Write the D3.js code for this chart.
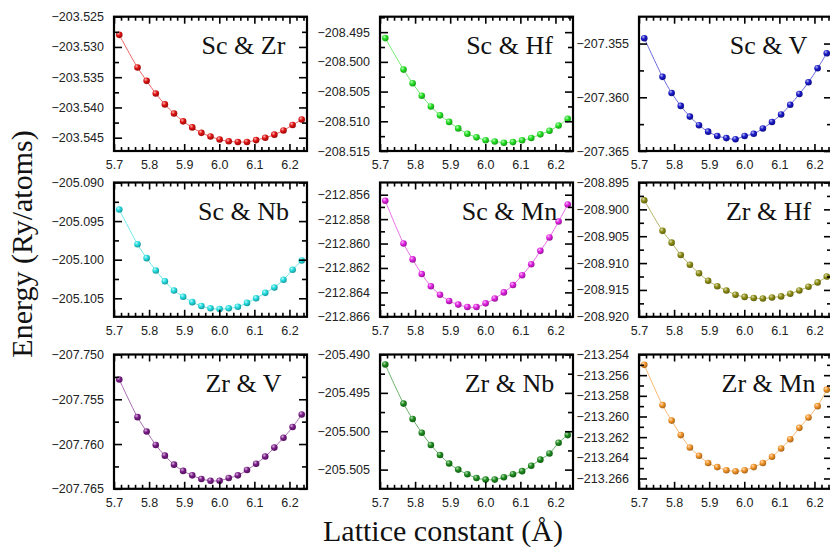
<!DOCTYPE html>
<html>
<head>
<meta charset="utf-8">
<script src="https://cdn.jsdelivr.net/npm/d3@7"></script>
<style>
  html, body { margin: 0; padding: 0; background: #fff; }
  svg { display: block; }
</style>
</head>
<body>
<svg id="chart" width="830" height="548"></svg>
<script>
// ---------------- DATA ----------------
const latticeConstants = [5.715, 5.767, 5.793, 5.819, 5.845, 5.871, 5.897, 5.923, 5.949, 5.975,
                          6.001, 6.027, 6.053, 6.079, 6.105, 6.131, 6.157, 6.183, 6.209, 6.235];

const panelTitles = ["Sc & Zr", "Sc & Hf", "Sc & V", "Sc & Nb", "Sc & Mn", "Zr & Hf", "Zr & V", "Zr & Nb", "Zr & Mn"];

const energyScZr = [-203.5280, -203.5334, -203.5356, -203.5377, -203.5395, -203.5410, -203.5423, -203.5433, -203.5442, -203.5448,
                    -203.5453, -203.5456, -203.5457, -203.5457, -203.5454, -203.5450, -203.5445, -203.5438, -203.5429, -203.5420];
const energyScHf = [-208.4960, -208.5013, -208.5036, -208.5057, -208.5075, -208.5090, -208.5101, -208.5112, -208.5121, -208.5127,
                    -208.5132, -208.5134, -208.5136, -208.5135, -208.5132, -208.5128, -208.5122, -208.5116, -208.5107, -208.5096];
const energyScV  = [-207.3545, -207.3581, -207.3596, -207.3608, -207.3618, -207.3626, -207.3632, -207.3636, -207.3638, -207.3639,
                    -207.3636, -207.3634, -207.3629, -207.3623, -207.3616, -207.3607, -207.3597, -207.3586, -207.3573, -207.3559];
const energyScNb = [-205.0935, -205.0980, -205.0998, -205.1014, -205.1028, -205.1040, -205.1048, -205.1055, -205.1060, -205.1063,
                    -205.1064, -205.1063, -205.1061, -205.1056, -205.1050, -205.1043, -205.1036, -205.1026, -205.1013, -205.1001];
const energyScMn = [-212.8565, -212.8600, -212.8613, -212.8625, -212.8635, -212.8642, -212.8647, -212.8650, -212.8652, -212.8652,
                    -212.8649, -212.8645, -212.8640, -212.8634, -212.8626, -212.8617, -212.8606, -212.8595, -212.8582, -212.8568];
const energyZrHf = [-208.8983, -208.9040, -208.9062, -208.9085, -208.9103, -208.9119, -208.9133, -208.9143, -208.9151, -208.9159,
                    -208.9163, -208.9165, -208.9166, -208.9164, -208.9162, -208.9157, -208.9151, -208.9144, -208.9136, -208.9125];
const energyZrV  = [-207.7528, -207.7570, -207.7586, -207.7601, -207.7613, -207.7623, -207.7630, -207.7635, -207.7639, -207.7641,
                    -207.7641, -207.7638, -207.7635, -207.7629, -207.7622, -207.7614, -207.7604, -207.7593, -207.7581, -207.7567];
const energyZrNb = [-205.4913, -205.4964, -205.4984, -205.5002, -205.5018, -205.5031, -205.5042, -205.5050, -205.5056, -205.5061,
                    -205.5063, -205.5063, -205.5060, -205.5056, -205.5052, -205.5045, -205.5037, -205.5029, -205.5015, -205.5005];
const energyZrMn = [-213.2550, -213.2589, -213.2604, -213.2618, -213.2630, -213.2638, -213.2645, -213.2649, -213.2652, -213.2653,
                    -213.2652, -213.2649, -213.2645, -213.2639, -213.2631, -213.2622, -213.2611, -213.2601, -213.2590, -213.2574];

const xTickLabels = [5.7, 5.8, 5.9, 6.0, 6.1, 6.2];

const yTicksScZr = [-203.525, -203.530, -203.535, -203.540, -203.545];
const yTicksScHf = [-208.495, -208.500, -208.505, -208.510, -208.515];
const yTicksScV  = [-207.355, -207.360, -207.365];
const yTicksScNb = [-205.090, -205.095, -205.100, -205.105];
const yTicksScMn = [-212.856, -212.858, -212.860, -212.862, -212.864, -212.866];
const yTicksZrHf = [-208.895, -208.900, -208.905, -208.910, -208.915, -208.920];
const yTicksZrV  = [-207.750, -207.755, -207.760, -207.765];
const yTicksZrNb = [-205.490, -205.495, -205.500, -205.505];
const yTicksZrMn = [-213.254, -213.256, -213.258, -213.260, -213.262, -213.264, -213.266];

const yDomainScZr = [-203.5472, -203.5250];
const yDomainScHf = [-208.5150, -208.4924];
const yDomainScV  = [-207.3650, -207.3525];
const yDomainScNb = [-205.1074, -205.0900];
const yDomainScMn = [-212.8660, -212.8550];
const yDomainZrHf = [-208.9200, -208.8950];
const yDomainZrV  = [-207.7650, -207.7500];
const yDomainZrNb = [-205.5075, -205.4900];
const yDomainZrMn = [-213.2670, -213.2540];

const xDomain = [5.7, 6.25];

// ---------------- STYLE / LAYOUT ----------------
const colors = ["#e01010", "#22e022", "#1818c8", "#22dde0", "#e020e0", "#8c8c12", "#7a1c88", "#1c8a1c", "#f29224"];
const series = [energyScZr, energyScHf, energyScV, energyScNb, energyScMn, energyZrHf, energyZrV, energyZrNb, energyZrMn];
const yTicks = [yTicksScZr, yTicksScHf, yTicksScV, yTicksScNb, yTicksScMn, yTicksZrHf, yTicksZrV, yTicksZrNb, yTicksZrMn];
const yDomains = [yDomainScZr, yDomainScHf, yDomainScV, yDomainScNb, yDomainScMn, yDomainZrHf, yDomainZrV, yDomainZrNb, yDomainZrMn];

const colLeft = [114, 380, 639];
const rowTop = [16.7, 182.5, 354.5];
const panelW = 193;
const panelH = 134.3;

const svg = d3.select("#chart");
svg.append("rect").attr("width", 830).attr("height", 548).attr("fill", "#fff");

const defs = svg.append("defs");
colors.forEach((c, i) => {
  const g = defs.append("radialGradient").attr("id", "ball" + i)
    .attr("cx", "0.38").attr("cy", "0.35").attr("r", "0.7").attr("fx", "0.35").attr("fy", "0.3");
  g.append("stop").attr("offset", "0%").attr("stop-color", d3.interpolateRgb(c, "#ffffff")(0.7));
  g.append("stop").attr("offset", "45%").attr("stop-color", c);
  g.append("stop").attr("offset", "100%").attr("stop-color", d3.color(c).darker(1.2));
});

const fmt = d3.format(".3f");

series.forEach((vals, i) => {
  const col = i % 3, row = Math.floor(i / 3);
  const x0 = colLeft[col], y0 = rowTop[row];
  const g = svg.append("g").attr("transform", `translate(${x0},${y0})`);

  const x = d3.scaleLinear().domain(xDomain).range([0, panelW]);
  const y = d3.scaleLinear().domain(yDomains[i]).range([panelH, 0]);

  const majors = yTicks[i];
  const step = Math.abs(majors[1] - majors[0]);
  const dom = yDomains[i];
  const minors = [];
  for (let k = -1; k < majors.length; k++) {
    const v = (k < 0 ? majors[0] + step / 2 : majors[k] - step / 2);
    if (v > dom[0] + 1e-9 && v < dom[1] - 1e-9) minors.push(v);
  }
  const xMinors = d3.range(0, 28).map(k => 5.7 + k * 0.02).filter(v => v < xDomain[1] && Math.abs(Math.round(v * 10) - v * 10) > 0.01);

  // Lines + markers
  const pts = latticeConstants.map((lc, k) => [lc, vals[k]]);
  const lineColor = d3.interpolateRgb(colors[i], "#ffffff")(0.35);
  g.append("path")
    .datum(pts)
    .attr("fill", "none")
    .attr("stroke", lineColor)
    .attr("stroke-width", 1)
    .attr("d", d3.line().x(d => x(d[0])).y(d => y(d[1])).curve(d3.curveCatmullRom));

  g.selectAll("circle.pt").data(pts).enter().append("circle")
    .attr("class", "pt")
    .attr("cx", d => x(d[0])).attr("cy", d => y(d[1]))
    .attr("r", 3.3)
    .attr("fill", `url(#ball${i})`);

  // Axes (ticks inward)
  const bottom = d3.axisBottom(x).tickValues(xTickLabels).tickSize(-7).tickPadding(9).tickFormat(d3.format(".1f"));
  const bottomMinor = d3.axisBottom(x).tickValues(xMinors).tickSize(-4).tickFormat("");
  const top = d3.axisTop(x).tickValues(xTickLabels).tickSize(-7).tickFormat("");
  const topMinor = d3.axisTop(x).tickValues(xMinors).tickSize(-4).tickFormat("");
  const left = d3.axisLeft(y).tickValues(majors).tickSize(-8).tickPadding(10).tickFormat(fmt);
  const leftMinor = d3.axisLeft(y).tickValues(minors).tickSize(-5).tickFormat("");
  const right = d3.axisRight(y).tickValues(majors).tickSize(-8).tickFormat("");
  const rightMinor = d3.axisRight(y).tickValues(minors).tickSize(-5).tickFormat("");

  const ax = [
    [bottom, `translate(0,${panelH})`], [bottomMinor, `translate(0,${panelH})`],
    [top, "translate(0,0)"], [topMinor, "translate(0,0)"],
    [left, "translate(0,0)"], [leftMinor, "translate(0,0)"],
    [right, `translate(${panelW},0)`], [rightMinor, `translate(${panelW},0)`]
  ];
  ax.forEach(([a, t]) => {
    const ga = g.append("g").attr("transform", t).call(a);
    ga.select(".domain").remove();
    ga.selectAll("line").attr("stroke", "#000").attr("stroke-width", 1.6);
    ga.selectAll("text").attr("font-family", "Liberation Sans, Arial, sans-serif").attr("font-size", 12.5).attr("fill", "#222");
  });

  // Frame
  g.append("rect").attr("x", 0).attr("y", 0).attr("width", panelW).attr("height", panelH)
    .attr("fill", "none").attr("stroke", "#000").attr("stroke-width", 2.2);

  // Title
  g.append("text")
    .attr("x", panelW / 2 + 33).attr("y", 37)
    .attr("text-anchor", "middle")
    .attr("font-family", "Liberation Serif, Times New Roman, serif")
    .attr("font-size", 26)
    .attr("fill", "#111")
    .text(panelTitles[i]);
});

// Axis titles
svg.append("text")
  .attr("transform", "translate(32,244) rotate(-90)")
  .attr("text-anchor", "middle")
  .attr("font-family", "Liberation Serif, Times New Roman, serif")
  .attr("font-size", 30)
  .attr("fill", "#111")
  .text("Energy (Ry/atoms)");

svg.append("text")
  .attr("x", 443).attr("y", 541)
  .attr("text-anchor", "middle")
  .attr("font-family", "Liberation Serif, Times New Roman, serif")
  .attr("font-size", 30)
  .attr("fill", "#111")
  .text("Lattice constant (Å)");
</script>
</body>
</html>
